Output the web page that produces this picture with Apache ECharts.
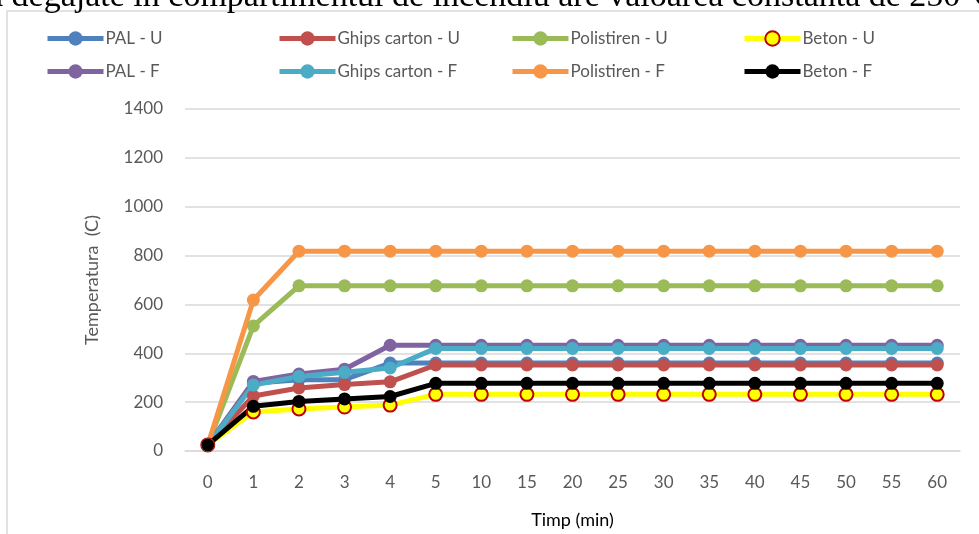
<!DOCTYPE html>
<html>
<head>
<meta charset="utf-8">
<script src="https://cdn.jsdelivr.net/npm/echarts@6/dist/echarts.min.js"></script>
<style>
  html, body { margin: 0; padding: 0; background: #fff; }
  #chart { width: 979px; height: 534px; }
</style>
</head>
<body>
<div id="chart"></div>
<script>
  // timpi (min)
  const timp = ['0', '1', '2', '3', '4', '5', '10', '15', '20', '25', '30', '35', '40', '45', '50', '55', '60'];

  // temperaturi (C)
  const palU = [25, 277, 292, 292, 360, 360, 360, 360, 360, 360, 360, 360, 360, 360, 360, 360, 360];
  const ghipsU = [25, 225, 258, 272, 283, 352, 352, 352, 352, 352, 352, 352, 352, 352, 352, 352, 352];
  const polistirenU = [25, 512, 676, 676, 676, 676, 676, 676, 676, 676, 676, 676, 676, 676, 676, 676, 676];
  const betonU = [25, 160, 172, 180, 188, 232, 232, 232, 232, 232, 232, 232, 232, 232, 232, 232, 232];
  const palF = [25, 285, 315, 335, 433, 433, 433, 433, 433, 433, 433, 433, 433, 433, 433, 433, 433];
  const ghipsF = [25, 270, 305, 322, 340, 420, 420, 420, 420, 420, 420, 420, 420, 420, 420, 420, 420];
  const polistirenF = [25, 618, 818, 818, 818, 818, 818, 818, 818, 818, 818, 818, 818, 818, 818, 818, 818];
  const betonF = [25, 183, 203, 213, 223, 277, 277, 277, 277, 277, 277, 277, 277, 277, 277, 277, 277];

  const yTicks = [0, 200, 400, 600, 800, 1000, 1200, 1400];

  const chart = echarts.init(document.getElementById('chart'));

  const textColor = '#595959';
  const fontFam = 'Lato, "Open Sans", sans-serif';

  function linie(name, data, color, extra) {
    return Object.assign({
      name: name,
      type: 'line',
      data: data,
      symbol: 'circle',
      symbolSize: 13,
      showSymbol: true,
      lineStyle: { color: color, width: 5 },
      itemStyle: { color: color },
      emphasis: { disabled: true },
      animation: false
    }, extra || {});
  }

  // legenda: cate o coloana cu 2 intrari
  const coloane = [
    [45, ['PAL - U', 'PAL - F']],
    [277, ['Ghips carton - U', 'Ghips carton - F']],
    [510, ['Polistiren - U', 'Polistiren - F']],
    [742, ['Beton - U', 'Beton - F']]
  ];

  const legends = coloane.map(function (c) {
    return {
      left: c[0],
      top: 30,
      orient: 'vertical',
      itemGap: 16,
      itemWidth: 56,
      itemHeight: 18,
      padding: 0,
      selectedMode: false,
      lineStyle: { width: 5 },
      textStyle: { color: textColor, fontSize: 17, fontFamily: fontFam, padding: [0, 0, 0, -3] },
      data: c[1]
    };
  });

  chart.setOption({
    backgroundColor: '#fff',
    animation: false,

    graphic: [{
      type: 'rect',
      shape: { x: 7, y: 11, width: 1100, height: 600 },
      style: { fill: 'none', stroke: '#D9D9D9', lineWidth: 1.5 },
      z: -10
    }, {
      type: 'text',
      left: -12,
      top: -20,
      style: {
        text: 'ă degajate în compartimentul de incendiu are valoarea constantă de 250°C',
        font: '34px "Liberation Serif", serif',
        fill: '#000'
      },
      z: 10
    }],

    legend: legends,

    grid: {
      left: 185,
      right: 19,
      top: 109,
      bottom: 81
    },

    xAxis: {
      type: 'category',
      data: timp,
      boundaryGap: true,
      name: 'Timp (min)',
      nameLocation: 'middle',
      nameGap: 60,
      nameTextStyle: { color: '#000', fontSize: 18, fontFamily: fontFam },
      axisLine: { show: true, lineStyle: { color: '#D9D9D9', width: 1.5 } },
      axisTick: { show: false },
      axisLabel: { color: textColor, fontSize: 17, fontFamily: fontFam, margin: 23 }
    },

    yAxis: {
      type: 'value',
      min: yTicks[0],
      max: yTicks[yTicks.length - 1],
      interval: 200,
      name: 'Temperatura  (C)',
      nameLocation: 'middle',
      nameGap: 84,
      nameTextStyle: { color: textColor, fontSize: 18, fontFamily: fontFam },
      axisLine: { show: false },
      axisTick: { show: false },
      axisLabel: {
        color: textColor, fontSize: 17, fontFamily: fontFam, margin: 22,
        formatter: function (v) { return String(v); }
      },
      splitLine: { show: true, lineStyle: { color: '#D9D9D9', width: 1.5 } }
    },

    series: [
      linie('PAL - U', palU, '#4F81BD'),
      linie('Ghips carton - U', ghipsU, '#C0504D'),
      linie('Polistiren - U', polistirenU, '#9BBB59'),
      linie('Beton - U', betonU, '#FFFF00', {
        itemStyle: { color: '#FFFF00', borderColor: '#C00000', borderWidth: 2 }
      }),
      linie('PAL - F', palF, '#8064A2'),
      linie('Ghips carton - F', ghipsF, '#4BACC6'),
      linie('Polistiren - F', polistirenF, '#F79646'),
      linie('Beton - F', betonF, '#000000')
    ]
  });
</script>
</body>
</html>
